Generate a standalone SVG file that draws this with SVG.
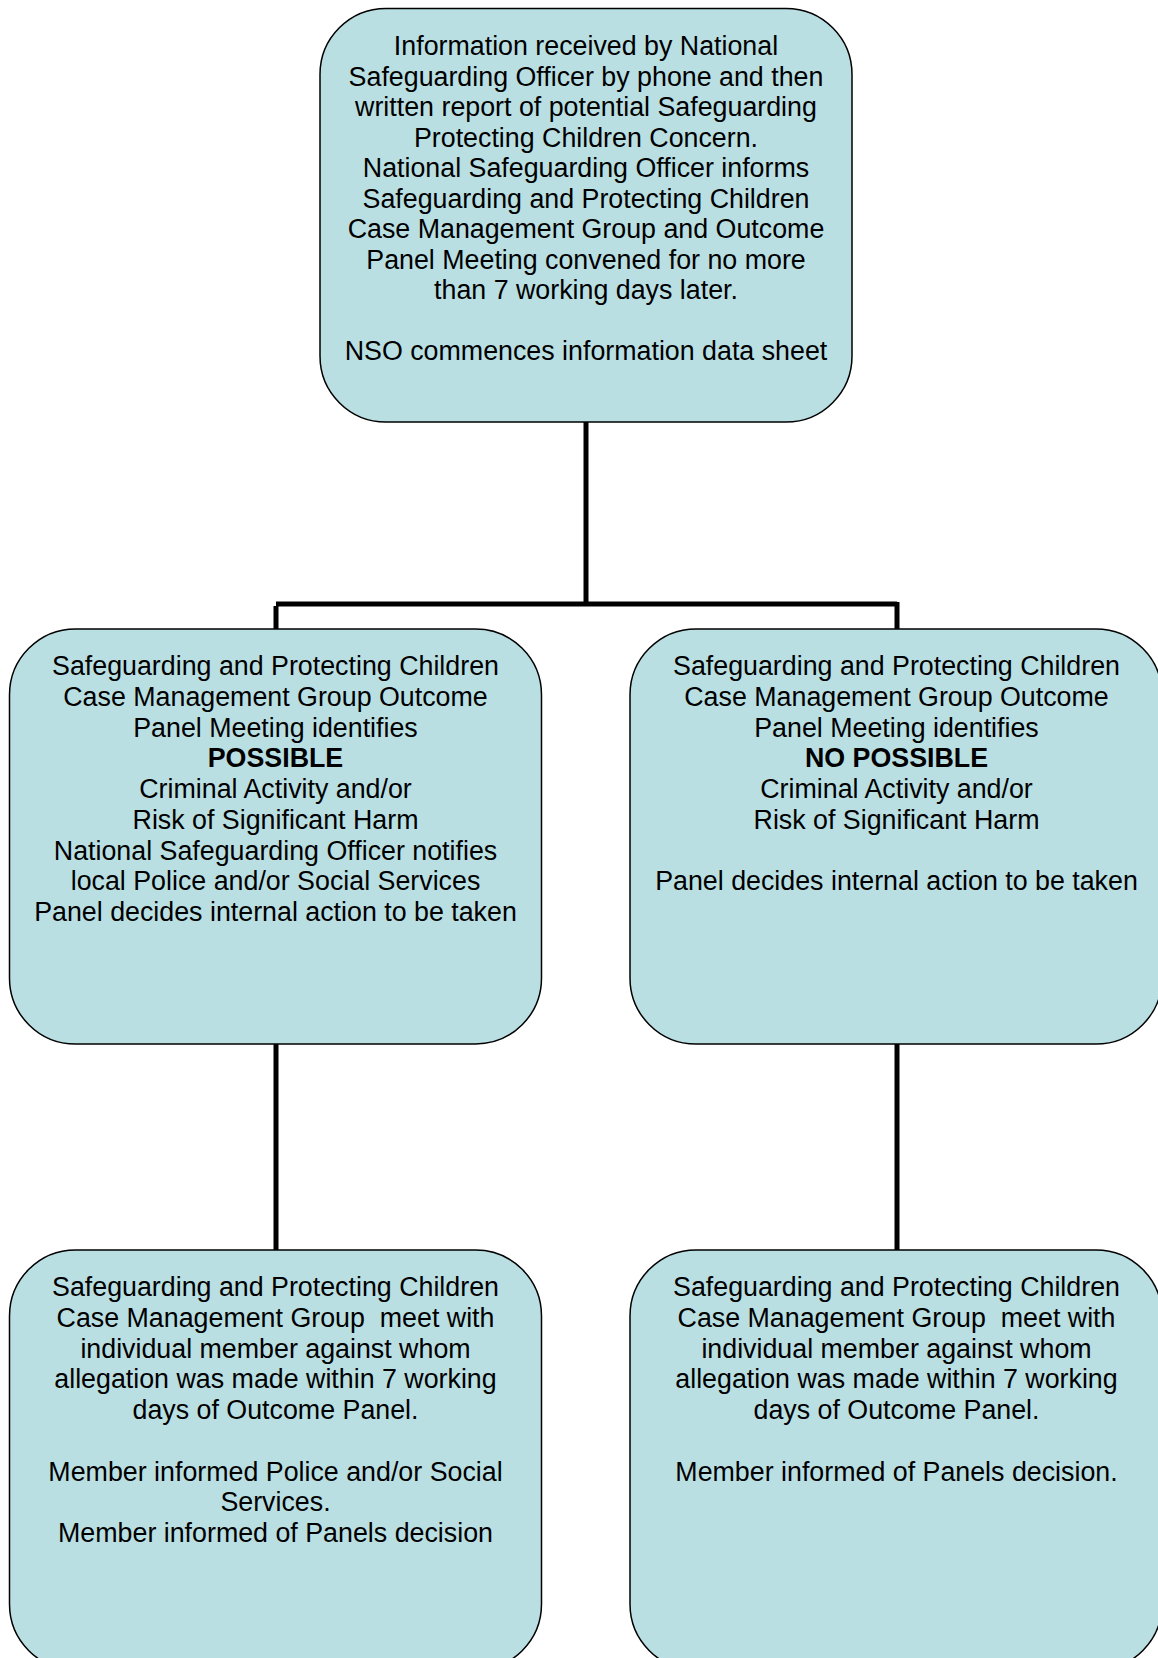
<svg xmlns="http://www.w3.org/2000/svg" width="1158" height="1658" viewBox="0 0 1158 1658">
<style>
.box{fill:#b9dfe3;stroke:#000;stroke-width:1.5}
.t{font-family:"Liberation Sans",Arial,sans-serif;font-size:26.8px;fill:#000;text-anchor:middle;white-space:pre}
.b{font-weight:bold}
.conn{fill:none;stroke:#000;stroke-width:5}
</style>
<rect width="1158" height="1658" fill="#fff"/>
<g id="connectors">
<path class="conn" d="M586 422 V604 M276 606 V629 M276 604 H897 M897 602 V629"/>
<path class="conn" d="M276 1044 V1250 M897 1044 V1250"/>
</g>
<g id="top">
<rect class="box" x="320" y="8.5" width="532" height="413.5" rx="66" ry="66"/>
<text class="t" transform="translate(0,1)"><tspan x="586" y="54">Information received by National</tspan><tspan x="586" y="84.5">Safeguarding Officer by phone and then</tspan><tspan x="586" y="115">written report of potential Safeguarding</tspan><tspan x="586" y="145.5">Protecting Children Concern.</tspan><tspan x="586" y="176">National Safeguarding Officer informs</tspan><tspan x="586" y="206.5">Safeguarding and Protecting Children</tspan><tspan x="586" y="237">Case Management Group and Outcome</tspan><tspan x="586" y="267.5">Panel Meeting convened for no more</tspan><tspan x="586" y="298">than 7 working days later.</tspan><tspan x="586" y="359">NSO commences information data sheet</tspan></text>
</g>
<g id="possible">
<rect class="box" x="9.5" y="629" width="532" height="415" rx="66" ry="66"/>
<text class="t" transform="translate(0,1)"><tspan x="275.5" y="674">Safeguarding and Protecting Children</tspan><tspan x="275.5" y="704.75">Case Management Group Outcome</tspan><tspan x="275.5" y="735.5">Panel Meeting identifies</tspan><tspan x="275.5" y="766.25" class="b">POSSIBLE</tspan><tspan x="275.5" y="797">Criminal Activity and/or</tspan><tspan x="275.5" y="827.75">Risk of Significant Harm</tspan><tspan x="275.5" y="858.5">National Safeguarding Officer notifies</tspan><tspan x="275.5" y="889.25">local Police and/or Social Services</tspan><tspan x="275.5" y="920">Panel decides internal action to be taken</tspan></text>
</g>
<g id="nopossible">
<rect class="box" x="630" y="629" width="532" height="415" rx="66" ry="66"/>
<text class="t" transform="translate(0,1)"><tspan x="896.5" y="674">Safeguarding and Protecting Children</tspan><tspan x="896.5" y="704.75">Case Management Group Outcome</tspan><tspan x="896.5" y="735.5">Panel Meeting identifies</tspan><tspan x="896.5" y="766.25" class="b">NO POSSIBLE</tspan><tspan x="896.5" y="797">Criminal Activity and/or</tspan><tspan x="896.5" y="827.75">Risk of Significant Harm</tspan><tspan x="896.5" y="889.25">Panel decides internal action to be taken</tspan></text>
</g>
<g id="meet-possible">
<rect class="box" x="9.5" y="1250" width="532" height="420" rx="66" ry="66"/>
<text class="t" transform="translate(0,1)"><tspan x="275.5" y="1295">Safeguarding and Protecting Children</tspan><tspan x="275.5" y="1325.75">Case Management Group  meet with</tspan><tspan x="275.5" y="1356.5">individual member against whom</tspan><tspan x="275.5" y="1387.25">allegation was made within 7 working</tspan><tspan x="275.5" y="1418">days of Outcome Panel.</tspan><tspan x="275.5" y="1479.5">Member informed Police and/or Social</tspan><tspan x="275.5" y="1510.25">Services.</tspan><tspan x="275.5" y="1541">Member informed of Panels decision</tspan></text>
</g>
<g id="meet-nopossible">
<rect class="box" x="630" y="1250" width="532" height="420" rx="66" ry="66"/>
<text class="t" transform="translate(0,1)"><tspan x="896.5" y="1295">Safeguarding and Protecting Children</tspan><tspan x="896.5" y="1325.75">Case Management Group  meet with</tspan><tspan x="896.5" y="1356.5">individual member against whom</tspan><tspan x="896.5" y="1387.25">allegation was made within 7 working</tspan><tspan x="896.5" y="1418">days of Outcome Panel.</tspan><tspan x="896.5" y="1479.5">Member informed of Panels decision.</tspan></text>
</g>
</svg>
